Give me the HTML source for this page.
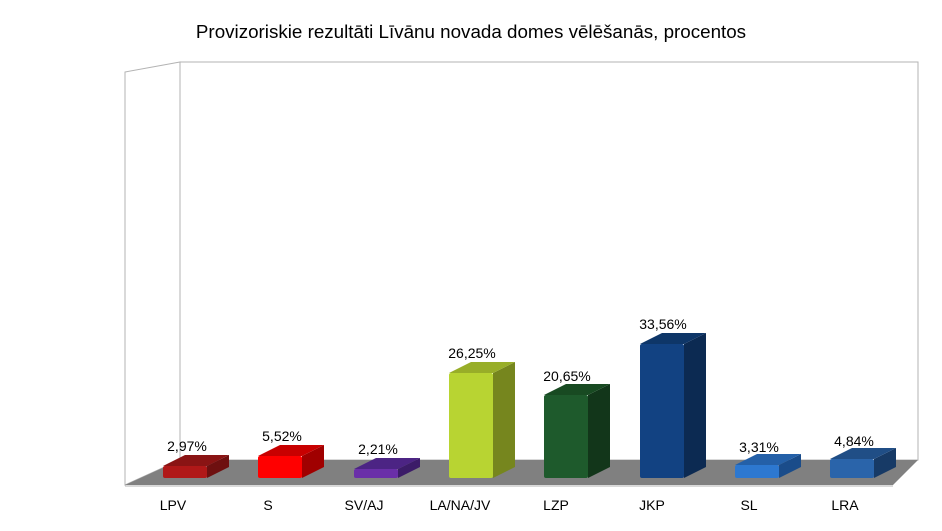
<!DOCTYPE html>
<html><head><meta charset="utf-8"><style>body{margin:0;background:#fff}svg{display:block}text{font-family:"Liberation Sans",sans-serif;fill:#000}</style></head><body>
<svg width="942" height="531" viewBox="0 0 942 531">
<text x="471" y="38" font-size="18.8" text-anchor="middle">Provizoriskie rezultāti Līvānu novada domes vēlēšanās, procentos</text>
<polygon points="180,62 918,62 918,460 180,460" fill="#fff" stroke="#b3b3b3"/>
<polygon points="125,72 180,62 180,460 125,485" fill="#fff" stroke="#b3b3b3"/>
<polygon points="180,460 918,460 893,485 125,485" fill="#808080"/>
<line x1="125" y1="486" x2="893" y2="486" stroke="#b3b3b3"/>

<g font-size="14" text-anchor="middle">
<polygon points="207,478 229,467 229,455 207,466" fill="#6e1010"/>
<polygon points="163,466 185,455 229,455 207,466" fill="#8a1414"/>
<rect x="163" y="466" width="44" height="12" rx="2" fill="#b01818"/>
<text x="187" y="451">2,97%</text><text x="173" y="510">LPV</text>

<polygon points="302,478 324,467 324,445 302,456" fill="#a00000"/>
<polygon points="258,456 280,445 324,445 302,456" fill="#c80000"/>
<rect x="258" y="456" width="44" height="22" rx="2" fill="#ff0000"/>
<text x="282" y="441">5,52%</text><text x="268" y="510">S</text>

<polygon points="398,478 420,467 420,458 398,469" fill="#3c1c68"/>
<polygon points="354,469 376,458 420,458 398,469" fill="#4c2484"/>
<rect x="354" y="469" width="44" height="9" rx="2" fill="#6a2fa8"/>
<text x="378" y="454">2,21%</text><text x="364" y="510">SV/AJ</text>

<polygon points="493,478 515,467 515,362 493,373" fill="#76861e"/>
<polygon points="449,373 471,362 515,362 493,373" fill="#98ae28"/>
<rect x="449" y="373" width="44" height="105" rx="2" fill="#b8d432"/>
<text x="472" y="358">26,25%</text><text x="460" y="510">LA/NA/JV</text>

<polygon points="588,478 610,467 610,384 588,395" fill="#12361a"/>
<polygon points="544,395 566,384 610,384 588,395" fill="#184a22"/>
<rect x="544" y="395" width="44" height="83" rx="2" fill="#1e5a2c"/>
<text x="567" y="381">20,65%</text><text x="556" y="510">LZP</text>

<polygon points="684,478 706,467 706,333 684,344" fill="#0c2a52"/>
<polygon points="640,344 662,333 706,333 684,344" fill="#0e3668"/>
<rect x="640" y="344" width="44" height="134" rx="2" fill="#124282"/>
<text x="663" y="329">33,56%</text><text x="652" y="510">JKP</text>

<polygon points="779,478 801,467 801,454 779,465" fill="#1a4c8a"/>
<polygon points="735,465 757,454 801,454 779,465" fill="#2460a8"/>
<rect x="735" y="465" width="44" height="13" rx="2" fill="#2d78d0"/>
<text x="759" y="452">3,31%</text><text x="749" y="510">SL</text>

<polygon points="874,478 896,467 896,448 874,459" fill="#173a66"/>
<polygon points="830,459 852,448 896,448 874,459" fill="#204e86"/>
<rect x="830" y="459" width="44" height="19" rx="2" fill="#2a64aa"/>
<text x="854" y="446">4,84%</text><text x="845" y="510">LRA</text>
</g>
</svg>
</body></html>
